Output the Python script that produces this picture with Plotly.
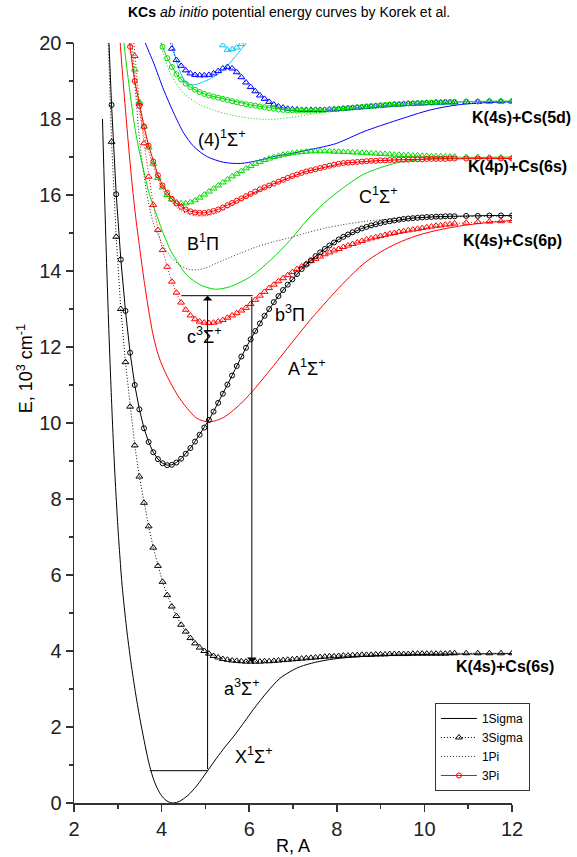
import plotly.graph_objects as go

# ---------------- data ----------------
BOHR_TO_ANGSTROM = 0.529177
# ab initio grid (bohr), converted to angstrom for plotting
R_BOHR = [5.2, 5.4, 5.6, 5.8, 6.0, 6.2, 6.4, 6.6, 6.8, 7.0,
          7.2, 7.4, 7.6, 7.8, 8.0, 8.2, 8.4, 8.6, 8.8, 9.0,
          9.2, 9.4, 9.6, 9.8, 10.0, 10.2, 10.4, 10.6, 10.8, 11.0,
          11.2, 11.4, 11.6, 11.8, 12.0, 12.2, 12.4, 12.6, 12.8, 13.0,
          13.2, 13.4, 13.6, 13.8, 14.0, 14.2, 14.4, 14.6, 14.8, 15.0,
          15.2, 15.4, 15.6, 15.8, 16.0, 16.2, 16.4, 16.6, 16.8, 17.0,
          17.2, 17.4, 17.6, 17.8, 18.0, 18.2, 18.4, 18.6, 18.8, 19.0,
          19.2, 19.4, 19.6, 19.8, 20.0, 20.2, 20.7, 21.2, 21.7, 22.2,
          22.68]
R_GRID = [b * BOHR_TO_ANGSTROM for b in R_BOHR]

# --- curves drawn as plain lines (1Sigma solid, 1Pi dotted) ---
X1S_R = [2.65, 2.7, 2.75, 2.8, 2.85, 2.9, 2.95, 3.0, 3.05, 3.1, 3.2, 3.3, 3.4, 3.5, 3.6, 3.7, 3.8,
         3.9, 4.0, 4.1, 4.2, 4.28, 4.4, 4.6, 4.8, 5.05, 5.3, 5.5, 5.65, 5.9, 6.1, 6.41, 6.7, 7.0,
         7.17, 7.5, 7.93, 8.5, 9.0, 10.0, 11.0, 12.0]
X1S_E = [18.0, 15.9, 14.0, 12.3, 10.8, 9.45, 8.3, 7.3, 6.45, 5.7, 4.6, 3.7, 2.93, 2.25, 1.65, 1.1, 0.68,
         0.39, 0.19, 0.07, 0.01, 0.0, 0.04, 0.2, 0.45, 0.85, 1.25, 1.55, 1.76, 2.15, 2.47, 2.92, 3.28,
         3.5, 3.59, 3.7, 3.79, 3.85, 3.88, 3.91, 3.92, 3.93]

A1S_R = [3.0, 3.1, 3.2, 3.3, 3.4, 3.5, 3.6, 3.7, 3.8, 3.9, 4.0, 4.13, 4.36, 4.58, 4.81, 5.04, 5.2,
         5.42, 5.6, 5.8, 6.07, 6.41, 6.71, 7.02, 7.4, 7.86, 8.2, 8.62, 9.0, 9.38, 9.8, 10.14, 10.5,
         10.9, 11.4, 12.0]
A1S_E = [20.9, 19.3, 17.9, 16.6, 15.5, 14.6, 13.75, 13.0, 12.35, 11.88, 11.55, 11.22, 10.74, 10.39,
         10.12, 10.03, 10.05, 10.15, 10.3, 10.5, 10.83, 11.3, 11.73, 12.18, 12.72, 13.32, 13.74, 14.2,
         14.5, 14.73, 14.92, 15.03, 15.12, 15.2, 15.27, 15.33]

C1S_R = [3.1, 3.2, 3.3, 3.4, 3.5, 3.6, 3.7, 3.8, 3.9, 4.0, 4.1, 4.2, 4.4, 4.58, 4.89, 5.23, 5.57,
         6.03, 6.49, 6.94, 7.32, 7.7, 8.08, 8.62, 9.38, 10.14, 11.0, 12.0]
C1S_E = [20.4, 19.4, 18.5, 17.7, 17.1, 16.6, 16.1, 15.75, 15.43, 15.1, 14.82, 14.55, 14.17, 13.89,
         13.63, 13.52, 13.59, 13.85, 14.29, 14.82, 15.34, 15.78, 16.13, 16.55, 16.85, 16.95, 16.98,
         17.0]

S4_R = [3.55, 3.63, 3.82, 4.05, 4.28, 4.51, 4.74, 5.04, 5.42, 5.8, 6.18, 6.56, 6.94, 7.32, 7.7,
        8.0, 8.62, 9.38, 10.14, 10.75, 11.4, 12.0]
S4_E = [20.3, 20.0, 19.47, 18.76, 18.15, 17.62, 17.27, 17.01, 16.86, 16.83, 16.9, 17.01, 17.09,
        17.18, 17.27, 17.36, 17.67, 17.97, 18.24, 18.37, 18.43, 18.45]

S5_R = [4.2, 4.4, 4.58, 4.74, 4.96, 5.19, 5.42, 5.65, 5.88, 6.0]
S5_E = [20.2, 19.3, 18.94, 18.9, 18.98, 19.11, 19.3, 19.6, 19.92, 20.1]

B1P_R = [3.3, 3.4, 3.5, 3.6, 3.7, 3.8, 3.9, 4.0, 4.2, 4.4, 4.6, 4.8, 5.0, 5.42, 5.8, 6.18, 6.56,
         6.94, 7.3, 7.7, 8.1, 8.6, 9.0, 9.5, 10.0, 11.0, 12.0]
B1P_E = [20.5, 18.8, 17.4, 16.5, 15.8, 15.3, 15.0, 14.75, 14.38, 14.17, 14.05, 14.03, 14.08, 14.29,
         14.47, 14.64, 14.77, 14.88, 15.0, 15.12, 15.21, 15.3, 15.35, 15.39, 15.41, 15.43, 15.44]

P2_R = [3.2, 3.4, 3.6, 3.8, 4.0, 4.2, 4.4, 4.6, 4.8, 5.0, 5.2, 5.4, 5.6, 5.8, 6.0, 6.4, 6.8, 7.2,
        7.6, 8.0, 9.0, 10.0, 11.0, 12.0]
P2_E = [20.8, 18.8, 17.6, 16.8, 16.2, 15.85, 15.62, 15.5, 15.45, 15.45, 15.5, 15.6, 15.72, 15.85,
        15.97, 16.2, 16.4, 16.57, 16.7, 16.8, 16.9, 16.94, 16.96, 16.96]

P3_R = [3.9, 3.97, 4.2, 4.51, 4.89, 5.42, 6.03, 6.49, 6.94, 7.55, 8.05, 9.0, 10.0, 11.0, 12.0]
P3_E = [20.4, 20.0, 19.2, 18.67, 18.37, 18.15, 18.02, 17.99, 18.04, 18.15, 18.24, 18.35, 18.42,
        18.45, 18.47]

# --- ab initio point curves (3Sigma triangles, 3Pi circles): first grid index + energies ---
A3S_START = 0
A3S_E = [21.2, 17.4, 14.9, 13.0, 11.6, 10.43, 9.41, 8.59, 7.90, 7.28,
         6.72, 6.24, 5.82, 5.47, 5.17, 4.92, 4.69, 4.51, 4.34, 4.20,
         4.09, 4.00, 3.93, 3.87, 3.83, 3.79, 3.77, 3.75, 3.74, 3.73,
         3.72, 3.72, 3.72, 3.72, 3.73, 3.73, 3.74, 3.75, 3.76, 3.77,
         3.78, 3.79, 3.80, 3.81, 3.82, 3.83, 3.84, 3.85, 3.86, 3.86,
         3.87, 3.88, 3.88, 3.89, 3.89, 3.90, 3.90, 3.90, 3.91, 3.91,
         3.91, 3.92, 3.92, 3.92, 3.92, 3.92, 3.93, 3.93, 3.93, 3.93,
         3.93, 3.93, 3.93, 3.93, 3.94, 3.94, 3.94, 3.94, 3.94, 3.94,
         3.94]

B3P_START = 0
B3P_E = [21.3, 18.37, 16.02, 14.3, 12.95, 11.85, 11.0, 10.36, 9.86, 9.50,
         9.23, 9.05, 8.94, 8.89, 8.90, 8.96, 9.06, 9.19, 9.34, 9.51,
         9.69, 9.88, 10.08, 10.30, 10.53, 10.77, 11.01, 11.25, 11.5, 11.75,
         11.98, 12.2, 12.42, 12.62, 12.82, 13.0, 13.18, 13.34, 13.5, 13.64,
         13.78, 13.92, 14.05, 14.17, 14.28, 14.39, 14.49, 14.58, 14.67, 14.75,
         14.83, 14.9, 14.96, 15.02, 15.07, 15.12, 15.16, 15.2, 15.23, 15.26,
         15.29, 15.31, 15.33, 15.35, 15.37, 15.38, 15.39, 15.40, 15.41, 15.42,
         15.42, 15.43, 15.43, 15.44, 15.44, 15.44, 15.45, 15.45, 15.46, 15.46,
         15.46]

C3S_START = 5
C3S_E = [21.1, 19.66, 18.41, 17.36, 16.48,
         15.74, 15.08, 14.55, 14.11, 13.72, 13.43, 13.17, 12.98, 12.83, 12.73,
         12.67, 12.64, 12.63, 12.64, 12.67, 12.71, 12.77, 12.83, 12.89, 12.96,
         13.03, 13.13, 13.24, 13.35, 13.45, 13.55, 13.64, 13.73, 13.81, 13.89,
         13.97, 14.05, 14.12, 14.19, 14.26, 14.32, 14.38, 14.44, 14.49, 14.54,
         14.58, 14.63, 14.67, 14.71, 14.75, 14.79, 14.83, 14.86, 14.89, 14.92,
         14.95, 14.98, 15.0, 15.03, 15.05, 15.07, 15.09, 15.11, 15.13, 15.15,
         15.17, 15.19, 15.2, 15.22, 15.23, 15.25, 15.27, 15.29, 15.3, 15.31,
         15.32]

P3PI2_START = 4
P3PI2_E = [21.0, 19.9, 19.0, 18.35, 17.8, 17.3,
           16.88, 16.52, 16.25, 16.06, 15.9, 15.78, 15.69, 15.62, 15.57, 15.54,
           15.53, 15.53, 15.55, 15.58, 15.62, 15.67, 15.73, 15.79, 15.85, 15.91,
           15.97, 16.03, 16.09, 16.15, 16.2, 16.25, 16.3, 16.35, 16.4, 16.45,
           16.5, 16.54, 16.58, 16.62, 16.65, 16.68, 16.71, 16.74, 16.77, 16.8,
           16.82, 16.84, 16.85, 16.86, 16.87, 16.88, 16.89, 16.9, 16.9, 16.91,
           16.91, 16.92, 16.92, 16.93, 16.93, 16.93, 16.94, 16.94, 16.94, 16.95,
           16.95, 16.95, 16.95, 16.95, 16.96, 16.96, 16.96, 16.96, 16.96, 16.96,
           16.96]

G3S_START = 5
G3S_E = [20.4, 19.3, 18.45, 17.8, 17.25,
         16.82, 16.45, 16.2, 16.0, 15.88, 15.81, 15.78, 15.78, 15.81, 15.86,
         15.93, 16.01, 16.09, 16.17, 16.25, 16.33, 16.41, 16.49, 16.56, 16.63,
         16.70, 16.76, 16.82, 16.87, 16.92, 16.96, 17.0, 17.03, 17.06, 17.08,
         17.1, 17.12, 17.13, 17.14, 17.15, 17.15, 17.15, 17.15, 17.15, 17.14,
         17.14, 17.13, 17.13, 17.12, 17.12, 17.11, 17.1, 17.1, 17.09, 17.08,
         17.08, 17.07, 17.06, 17.06, 17.05, 17.05, 17.04, 17.04, 17.03, 17.03,
         17.02, 17.02, 17.02, 17.01, 17.01, 17.01, 17.0, 17.0, 16.99, 16.99,
         16.98]

G3P_START = 11
G3P_E = [20.3, 19.9, 19.6, 19.37, 19.18, 19.04, 18.93, 18.84, 18.77,
         18.71, 18.66, 18.62, 18.59, 18.56, 18.53, 18.5, 18.47, 18.44, 18.41,
         18.39, 18.37, 18.35, 18.33, 18.31, 18.29, 18.27, 18.25, 18.24, 18.23,
         18.23, 18.22, 18.22, 18.22, 18.22, 18.23, 18.23, 18.24, 18.25, 18.26,
         18.27, 18.28, 18.29, 18.3, 18.31, 18.32, 18.33, 18.34, 18.35, 18.36,
         18.37, 18.38, 18.39, 18.39, 18.4, 18.41, 18.41, 18.42, 18.42, 18.43,
         18.43, 18.44, 18.44, 18.45, 18.45, 18.45, 18.46, 18.46, 18.47, 18.47,
         18.47]

BL3S_START = 13
BL3S_E = [20.3, 19.85, 19.55, 19.4, 19.28, 19.2, 19.16,
          19.15, 19.15, 19.16, 19.2, 19.26, 19.33, 19.37, 19.33, 19.23, 19.1,
          18.96, 18.84, 18.73, 18.62, 18.53, 18.45, 18.38, 18.33, 18.3, 18.27,
          18.26, 18.25, 18.24, 18.24, 18.24, 18.24, 18.24, 18.24, 18.25, 18.25,
          18.26, 18.27, 18.28, 18.29, 18.3, 18.31, 18.32, 18.33, 18.34, 18.35,
          18.36, 18.37, 18.38, 18.38, 18.39, 18.4, 18.4, 18.41, 18.41, 18.42,
          18.42, 18.43, 18.43, 18.44, 18.44, 18.44, 18.45, 18.45, 18.46, 18.46,
          18.46]

CY3S_START = 24
CY3S_E = [20.2, 19.94, 19.82, 19.84, 19.88, 19.97, 20.1]

# transition scheme (pump up from X, dump down to a)
PUMP_R = 5.05
DUMP_R = 6.06
X_LEVEL_E = 0.85
X_LEVEL_R = [3.73, 5.05]
UPPER_LEVEL_E = 13.35
UPPER_LEVEL_R = [4.45, 6.08]
DUMP_END_E = 3.70

# state labels
STATE_TEXT = ["(4)<sup>1</sup>Σ<sup>+</sup>", "B<sup>1</sup>Π", "b<sup>3</sup>Π",
              "c<sup>3</sup>Σ<sup>+</sup>", "A<sup>1</sup>Σ<sup>+</sup>", "C<sup>1</sup>Σ<sup>+</sup>",
              "a<sup>3</sup>Σ<sup>+</sup>", "X<sup>1</sup>Σ<sup>+</sup>"]
STATE_R = [5.38, 4.94, 6.93, 4.98, 7.32, 8.95, 5.83, 6.12]
STATE_E = [17.5, 14.74, 12.89, 12.3, 11.47, 16.0, 3.05, 1.26]

# asymptote labels
LIMIT_TEXT = ["K(4s)+Cs(5d)", "K(4p)+Cs(6s)", "K(4s)+Cs(6p)", "K(4s)+Cs(6s)"]
LIMIT_E = [18.03, 16.76, 14.79, 3.58]
LIMIT_XPAPER = [1.022, 1.013, 1.001, 0.983]

# ---------------- styling ----------------
FONT = "Liberation Sans, Arial, sans-serif"
BLACK = "#000000"
RED = "#ff0000"
GREEN = "#00dd00"
BLUE = "#0000ff"
CYAN = "#11c4f2"
DOTS = "1px,2px"

fig = go.Figure()


def grid_x(start, values):
    return R_GRID[start:start + len(values)]


def add_line(r, e, color, dash="solid", name=None, rank=None):
    fig.add_trace(go.Scatter(
        x=r, y=e, mode="lines", line=dict(color=color, width=1, dash=dash, shape="spline", smoothing=0.8),
        name=name, showlegend=name is not None, legendrank=rank or 1000, hoverinfo="skip"))


def add_points(start, e, color, symbol, dash, size, name=None, rank=None):
    fig.add_trace(go.Scatter(
        x=grid_x(start, e), y=e, mode="lines+markers",
        line=dict(color=color, width=1, dash=dash),
        marker=dict(symbol=symbol, size=size, color=color, line=dict(color=color, width=1)),
        name=name, showlegend=name is not None, legendrank=rank or 1000, hoverinfo="skip"))


# 1Sigma (solid)
add_line(X1S_R, X1S_E, BLACK, name="1Sigma", rank=1)
add_line(A1S_R, A1S_E, RED)
add_line(C1S_R, C1S_E, GREEN)
add_line(S4_R, S4_E, BLUE)
add_line(S5_R, S5_E, CYAN)
# 1Pi (dotted)
add_line(B1P_R, B1P_E, "#333333", dash=DOTS, name="1Pi", rank=3)
add_line(P2_R, P2_E, RED, dash=DOTS)
add_line(P3_R, P3_E, GREEN, dash=DOTS)
# 3Sigma (dotted + triangles)
add_points(A3S_START, A3S_E, BLACK, "triangle-up-open", DOTS, 6, name="3Sigma", rank=2)
add_points(C3S_START, C3S_E, RED, "triangle-up-open", DOTS, 6)
add_points(G3S_START, G3S_E, GREEN, "triangle-up-open", DOTS, 6)
add_points(BL3S_START, BL3S_E, BLUE, "triangle-up-open", DOTS, 6)
add_points(CY3S_START, CY3S_E, CYAN, "triangle-up-open", DOTS, 6)
# 3Pi (solid + circles)
add_points(B3P_START, B3P_E, BLACK, "circle-open", "solid", 5)
add_points(P3PI2_START, P3PI2_E, RED, "circle-open", "solid", 5, name="3Pi", rank=4)
add_points(G3P_START, G3P_E, GREEN, "circle-open", "solid", 5)

# transition scheme: level lines
fig.add_trace(go.Scatter(x=X_LEVEL_R, y=[X_LEVEL_E, X_LEVEL_E], mode="lines",
                         line=dict(color=BLACK, width=1), showlegend=False, hoverinfo="skip"))
fig.add_trace(go.Scatter(x=UPPER_LEVEL_R, y=[UPPER_LEVEL_E, UPPER_LEVEL_E], mode="lines",
                         line=dict(color=BLACK, width=1), showlegend=False, hoverinfo="skip"))

annotations = []
# arrows
annotations.append(dict(x=PUMP_R, y=UPPER_LEVEL_E, ax=PUMP_R, ay=X_LEVEL_E, xref="x", yref="y",
                        axref="x", ayref="y", text="", showarrow=True, arrowhead=1, arrowsize=1.6,
                        arrowwidth=1, arrowcolor=BLACK))
annotations.append(dict(x=DUMP_R, y=DUMP_END_E, ax=DUMP_R, ay=UPPER_LEVEL_E, xref="x", yref="y",
                        axref="x", ayref="y", text="", showarrow=True, arrowhead=1, arrowsize=1.6,
                        arrowwidth=1, arrowcolor=BLACK))
# state labels
for t, r, e in zip(STATE_TEXT, STATE_R, STATE_E):
    annotations.append(dict(x=r, y=e, xref="x", yref="y", text=t, showarrow=False,
                            xanchor="center", yanchor="middle",
                            font=dict(family=FONT, size=18, color=BLACK)))
# asymptote labels
for t, xp, e in zip(LIMIT_TEXT, LIMIT_XPAPER, LIMIT_E):
    annotations.append(dict(x=xp, y=e, xref="paper", yref="y", text="<b>" + t + "</b>",
                            showarrow=False, xanchor="center", yanchor="middle",
                            font=dict(family=FONT, size=16, color=BLACK)))
# title
annotations.append(dict(x=0.491, y=1.0408, xref="paper", yref="paper",
                        text="<b>KCs</b> <i>ab initio</i> potential energy curves by Korek et al.",
                        showarrow=False, font=dict(family=FONT, size=14, color=BLACK),
                        xanchor="center", yanchor="middle"))
# axis titles
annotations.append(dict(x=-0.112, y=0.572, xref="paper", yref="paper",
                        text="E, 10<sup>3</sup> cm<sup>-1</sup>", textangle=-90, showarrow=False,
                        font=dict(family=FONT, size=18, color=BLACK), xanchor="center", yanchor="middle"))
annotations.append(dict(x=0.5, y=-0.0566, xref="paper", yref="paper", text="R, A", showarrow=False,
                        font=dict(family=FONT, size=18, color=BLACK), xanchor="center", yanchor="middle"))

axis_common = dict(showline=True, linecolor="#333333", linewidth=1.5, ticks="outside", ticklen=7,
                   tickwidth=1.5, tickcolor="#333333", showgrid=False, zeroline=False,
                   tickfont=dict(family=FONT, size=20, color="#222222"),
                   minor=dict(ticks="outside", ticklen=4, tickwidth=1.5, tickcolor="#333333", dtick=1,
                              showgrid=False))

fig.update_layout(
    width=577, height=857, autosize=False,
    margin=dict(l=74, r=65, t=43, b=54),
    paper_bgcolor="white", plot_bgcolor="white",
    font=dict(family=FONT, color=BLACK),
    xaxis=dict(range=[2, 12], dtick=2, **axis_common),
    yaxis=dict(range=[0, 20], dtick=2, **axis_common),
    annotations=annotations,
    legend=dict(x=0.824, y=0.1316, xanchor="left", yanchor="top", bordercolor="#333333",
                borderwidth=1, bgcolor="white", font=dict(family=FONT, size=12, color=BLACK),
                itemwidth=36, tracegroupgap=0),
)

# remove the page's default 8px body margin so the figure fills the 577x857 window exactly
fig.write_html("out.html", config={"displayModeBar": False, "staticPlot": True},
               post_script="document.body.style.margin='0px';")
